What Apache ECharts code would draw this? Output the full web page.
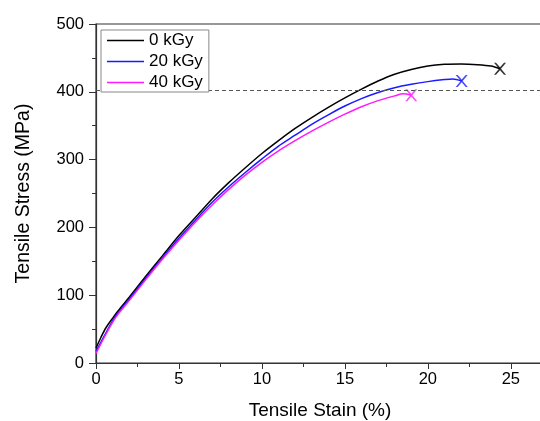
<!DOCTYPE html>
<html>
<head>
<meta charset="utf-8">
<script src="https://cdn.jsdelivr.net/npm/echarts@6/dist/echarts.min.js"></script>
<style>
    html, body { margin: 0; padding: 0; background: #fff; }
    #chart { width: 540px; height: 421px; }
</style>
</head>
<body>
<div id="chart"></div>
<script>
// strain (%) / stress (MPa)
const dose0 = [[0,22],[0.3,38],[0.6,52],[1.0,66],[1.3,76],[2,97],[3,128],[4,158],[5,188],[6,215],[7,242],[8,266],[9,288],[10,309],[11,328],[12,346],[13,362],[14,377],[15,391],[16,404],[17,416],[18,426],[19,433],[20,438],[21,440.5],[22,441],[23,440],[23.8,438],[24.35,434]];
const dose20 = [[0,17],[0.5,40],[1,62],[1.3,73],[2,94],[3,125],[4,155],[5,184],[6,211],[7,237],[8,260],[9,281],[10,301],[11,320],[12,336],[13,352],[14,366],[15,379],[16,390],[17,399],[18,406],[19,411],[20,415],[21,418],[21.5,419],[22.04,416]];
const dose40 = [[0,14],[0.5,38],[1,60],[1.3,71],[2,92],[3,123],[4,153],[5,181],[6,208],[7,233],[8,256],[9,277],[10,296],[11,313],[12,328],[13,342],[14,355],[15,367],[16,378],[17,387],[18,394],[18.5,397],[19.0,395]];
const names = ['0 kGy', '20 kGy', '40 kGy'];
const colors = ['#000000', '#1a1aff', '#ff1aff'];
const refStress = 403;

const crossIcon = 'path://M0,0L2,0L6,4.6L10,0L12,0L7,6L12,12L10,12L6,7.4L2,12L0,12L5,6Z';
const font = 'Liberation Sans, Arial, sans-serif';

var myChart = echarts.init(document.getElementById('chart'));

const curves = [dose0, dose20, dose40];
var series = [];
curves.forEach((d, i) => {
    series.push({
        name: names[i],
        type: 'line',
        data: d,
        symbol: 'none',
        smooth: 0.3,
        lineStyle: { color: colors[i], width: 1.5 },
        itemStyle: { color: colors[i] },
        z: 3
    });
    // fracture point
    series.push({
        type: 'scatter',
        data: [d[d.length - 1]],
        symbol: crossIcon,
        symbolSize: 12,
        itemStyle: { color: colors[i] },
        z: 4
    });
});
series[0].markLine = {
    silent: true,
    symbol: 'none',
    label: { show: false },
    lineStyle: { color: '#555', type: [4, 3], width: 1.2 },
    data: [{ yAxis: refStress }]
};

var option = {
    animation: false,
    textStyle: { fontFamily: font },
    grid: {
        left: 96, top: 24, width: 448, height: 339,
        containLabel: false,
        outerBoundsMode: 'none',
        show: true, borderColor: '#333', borderWidth: 1.2,
        backgroundColor: 'transparent'
    },
    legend: {
        data: names,
        orient: 'vertical',
        left: 101, top: 30,
        icon: 'rect',
        itemWidth: 37, itemHeight: 1.5, itemGap: 4,
        padding: [2, 6, 1, 6],
        borderColor: '#888', borderWidth: 1,
        backgroundColor: '#fff',
        textStyle: { fontSize: 17, color: '#000', fontFamily: font },
        z: 10
    },
    xAxis: {
        type: 'value',
        min: 0, max: 27, interval: 5,
        name: 'Tensile Stain (%)',
        nameLocation: 'middle', nameGap: 38,
        nameTextStyle: { fontSize: 19, color: '#000', fontFamily: font },
        axisLine: { onZero: false, lineStyle: { color: '#333', width: 1.2 } },
        axisTick: { length: 6, lineStyle: { color: '#333' } },
        minorTick: { show: true, splitNumber: 2, length: 4, lineStyle: { color: '#333' } },
        splitLine: { show: false },
        axisLabel: { fontSize: 16.5, color: '#000', margin: 8, showMaxLabel: false }
    },
    yAxis: {
        type: 'value',
        min: 0, max: 500, interval: 100,
        name: 'Tensile Stress (MPa)',
        nameLocation: 'middle', nameGap: 62,
        nameTextStyle: { fontSize: 19.5, color: '#000', fontFamily: font },
        axisLine: { show: true, lineStyle: { color: '#333', width: 1.2 } },
        axisTick: { show: true, length: 7, lineStyle: { color: '#333' } },
        minorTick: { show: true, splitNumber: 2, length: 4, lineStyle: { color: '#333' } },
        splitLine: { show: false },
        axisLabel: { fontSize: 16.5, color: '#000', margin: 12 }
    },
    series: series
};

myChart.setOption(option);
</script>
</body>
</html>
